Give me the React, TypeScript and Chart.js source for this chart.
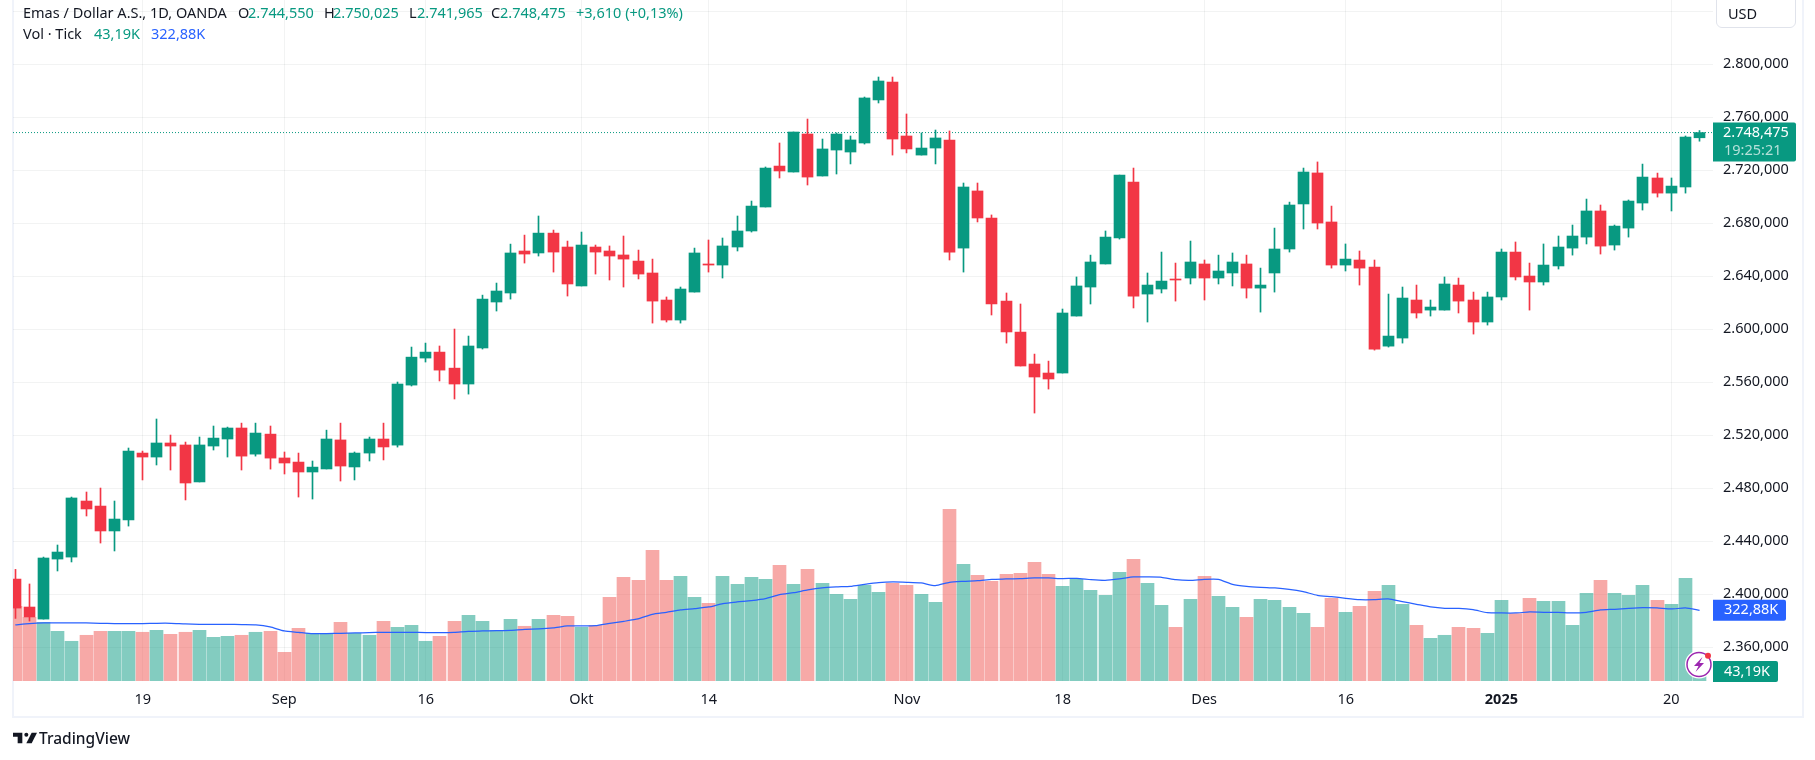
import { type FC, useEffect, useRef } from "react";
import Chart from "chart.js/auto";

const FONT = "'Noto Sans', sans-serif";
const FONT_SIZE = 14.5;
const UP = "#089981";
const DOWN = "#F23645";
const UP_VOL = "rgba(8, 153, 129, 0.5)";
const DOWN_VOL = "rgba(239, 83, 80, 0.5)";
const MA_BLUE = "#2962FF";
const GRID = "rgba(42, 46, 57, 0.06)";

const opens = [
  2411.5, 2390.4, 2381.3, 2426.6, 2428.1, 2470.4, 2466.6, 2447.8, 2456.1, 2506.6,
  2503.6, 2514.2, 2512.7, 2484.8, 2511.9, 2517.2, 2525.5, 2505.8, 2520.9, 2502.9,
  2499.8, 2492.3, 2494.6, 2516.5, 2496.1, 2506.6, 2517.2, 2512.6, 2557.9, 2578.3,
  2582.8, 2570.7, 2558.7, 2585.9, 2620.6, 2627.4, 2659.1, 2657.6, 2672.6, 2662.1,
  2632.7, 2662.1, 2659.1, 2656.1, 2651.5, 2642.5, 2622.1, 2607, 2628.1, 2649.3,
  2648.5, 2662.1, 2674.2, 2692.3, 2723.2, 2718.7, 2747.4, 2715.7, 2735.3, 2733.8,
  2740.6, 2773.1, 2786.6, 2745.9, 2731.5, 2736.8, 2742.9, 2661.3, 2704.4, 2684,
  2621.3, 2597.9, 2573.8, 2567, 2567, 2610, 2631.9, 2649.3, 2668.9, 2711.2,
  2626.6, 2630.4, 2637.9, 2638.7, 2649.3, 2638.7, 2642.5, 2649.3, 2631.1, 2642.5,
  2660.6, 2694.6, 2718, 2681, 2648.5, 2652.3, 2647, 2587.3, 2593.4, 2622.1,
  2614.5, 2614.5, 2633.4, 2622.1, 2605.5, 2624.4, 2658.3, 2640.2, 2635.7, 2647.8,
  2661.3, 2669.6, 2689.3, 2663.6, 2676.4, 2695.3, 2714.2, 2702.8, 2707.4, 2744.55,
];
const highs = [
  2418.8, 2407.8, 2428.1, 2437.2, 2473.4, 2477.2, 2480.2, 2470.4, 2510.4, 2508.1,
  2532.3, 2520.2, 2514.9, 2518.7, 2527, 2526.2, 2529.2, 2529.2, 2527, 2507.4,
  2506.6, 2500.6, 2523.9, 2529.2, 2507.4, 2518.7, 2529.2, 2560.2, 2586.6, 2589.6,
  2587.4, 2600.2, 2594.9, 2625.8, 2634.9, 2664.3, 2671.1, 2685.5, 2674.9, 2666.6,
  2673.4, 2663.6, 2662.9, 2670.4, 2659.8, 2653, 2624.4, 2631.9, 2661.3, 2667.4,
  2668.9, 2685.5, 2696.8, 2722.5, 2740.6, 2748.9, 2758.7, 2743.6, 2748.2, 2745.9,
  2775.3, 2790.4, 2790.4, 2762.5, 2748.2, 2750.4, 2749.7, 2710.4, 2710.4, 2686.3,
  2627.4, 2619.1, 2581.3, 2576, 2615.3, 2639.5, 2656, 2674.2, 2716.4, 2721.7,
  2642.5, 2658.3, 2650, 2666.6, 2652.3, 2656, 2657.6, 2656, 2646.2, 2676.4,
  2696, 2721.7, 2726.3, 2693, 2664.4, 2659.1, 2652.3, 2626.6, 2631.9, 2633.4,
  2622.1, 2639.5, 2638.7, 2628.1, 2628.1, 2660.6, 2665.9, 2650, 2664.4, 2670.4,
  2678.7, 2698.3, 2693.8, 2678.7, 2697.6, 2724.7, 2717.9, 2714.2, 2745.9, 2750.025,
];
const lows = [
  2381.8, 2379.8, 2381.3, 2417.6, 2424.4, 2459.1, 2438.7, 2432.7, 2451.5, 2486.3,
  2497.6, 2493.8, 2471.2, 2484.8, 2508.9, 2503.6, 2493.8, 2504.3, 2494.5, 2490.8,
  2473.4, 2471.9, 2494.6, 2485.5, 2486.3, 2500.6, 2501.4, 2511.1, 2557.2, 2575.3,
  2561, 2547.4, 2551.1, 2585.1, 2613.8, 2622.8, 2650, 2655.3, 2643.2, 2625.1,
  2632.7, 2641.7, 2637.2, 2631.9, 2638, 2604.7, 2605.5, 2604.7, 2628.1, 2643.2,
  2638.7, 2659.1, 2673.4, 2692.3, 2714.2, 2718.7, 2708.9, 2715.7, 2717.2, 2724.8,
  2739.8, 2770.8, 2731.5, 2733.1, 2731.5, 2724.8, 2652.3, 2643.2, 2681, 2610.8,
  2589.6, 2572.3, 2536.8, 2554.9, 2567, 2610, 2619.1, 2649.3, 2668.1, 2616.1,
  2605.5, 2627.4, 2621.3, 2634.2, 2622.1, 2634.2, 2632.7, 2623.6, 2613, 2628.1,
  2658.3, 2675.7, 2675.7, 2646.2, 2644, 2633.4, 2584.3, 2586.6, 2589.6, 2608.5,
  2610, 2614.5, 2612.3, 2596.4, 2603.2, 2622.1, 2637.2, 2614.5, 2633.4, 2645.5,
  2656, 2664.4, 2656.8, 2659.8, 2669.6, 2690, 2699.8, 2689.3, 2702.8, 2741.965,
];
const closes = [
  2389.6, 2382.9, 2427.4, 2431.9, 2472.7, 2464.4, 2447.8, 2456.8, 2508.1, 2503.6,
  2514.2, 2511.9, 2484, 2512.7, 2517.9, 2525.5, 2504.3, 2521.7, 2502.8, 2499.1,
  2492.3, 2496, 2517.2, 2496.8, 2506.6, 2517.2, 2511.2, 2558.7, 2579, 2582.8,
  2569.2, 2558.7, 2587.4, 2622.8, 2628.9, 2657.6, 2656.8, 2672.6, 2658.3, 2634.2,
  2663.6, 2658.3, 2655.3, 2653, 2641.7, 2621.3, 2607, 2630.4, 2657.6, 2648.5,
  2662.9, 2674.2, 2693, 2721.7, 2719.5, 2748.9, 2714.9, 2736.1, 2747.4, 2742.9,
  2774.6, 2787.4, 2743.6, 2736.1, 2736.8, 2744.4, 2658.3, 2707.4, 2684, 2619.1,
  2598, 2572.3, 2564, 2562.5, 2612.3, 2632.7, 2650.8, 2669.6, 2716.4, 2625.1,
  2633.4, 2636.4, 2637.2, 2650.8, 2638.7, 2644, 2650.8, 2631.1, 2633.4, 2660.6,
  2693.8, 2718.7, 2680.2, 2648.5, 2653, 2646.2, 2585.1, 2594.9, 2623.6, 2612.3,
  2616.8, 2634.2, 2621.3, 2605.5, 2624.4, 2658.3, 2639.5, 2635.7, 2648.5, 2662.1,
  2670.4, 2689.3, 2662.8, 2677.9, 2696.8, 2714.9, 2702.8, 2708.1, 2745.1, 2748.475,
];
// tick volume, in thousands
const volumes = [
  341.1, 290.9, 268, 226.9, 181.3, 208.7, 226.9, 226.9, 226.9, 222.4,
  231.5, 213.2, 222.4, 231.5, 199.5, 204.1, 208.7, 222.4, 226.9, 131,
  240.6, 217.8, 213.2, 268, 217.8, 208.7, 272.6, 245.2, 254.3, 181.3,
  204.1, 272.6, 300, 272.6, 231.5, 281.7, 249.8, 281.7, 300, 295.4,
  245.2, 254.3, 382.2, 473.5, 459.8, 596.8, 459.8, 478, 382.2, 354.8,
  478, 441.5, 473.5, 464.4, 528.3, 441.5, 510, 446.1, 395.9, 373,
  437, 405, 446.1, 437, 395.9, 359.3, 784, 532.9, 482.6, 455.2,
  487.2, 491.8, 542, 487.2, 432.4, 464.4, 414.1, 391.3, 496.3, 555.7,
  446.1, 345.6, 245.2, 373, 478, 386.7, 336.5, 290.9, 373, 368.5,
  336.5, 309.1, 245.2, 377.6, 313.7, 341.1, 409.6, 437, 350.2, 254.3,
  194.9, 208.7, 245.2, 240.6, 217.8, 368.5, 307.6, 377.6, 363.9, 363.9,
  254.3, 400.4, 459.8, 400.4, 391.3, 437, 368.5, 350.2, 468.9, 43.19,
];
const volumeMa = [
  255.9, 261.9, 265, 265, 265, 265, 263.5, 261.9, 261.9, 261.9,
  263.5, 263.5, 260.4, 258.9, 258.9, 258.9, 257.4, 255.9, 246.7, 228.5,
  222.4, 216.3, 216.3, 217.8, 219.3, 220.8, 222.4, 222.4, 222.4, 220.8,
  220.8, 222.4, 226.9, 228.5, 230, 231.5, 236.1, 237.6, 242.1, 251.3,
  251.3, 252.8, 263.5, 272.6, 283.2, 304.6, 313.7, 324.3, 330.4, 338,
  353.3, 360.9, 367, 376.1, 394.4, 403.5, 415.7, 424.8, 429.4, 432.4,
  441.5, 449.1, 452.2, 450.7, 447.6, 435.4, 450.7, 455.2, 458.3, 464.4,
  465.9, 467.4, 470.4, 470.4, 467.4, 468.9, 462.8, 459.8, 465.9, 475,
  475, 473.5, 462.8, 459.8, 464.4, 464.4, 441.5, 432.4, 427.8, 424.8,
  418.7, 408, 391.3, 385.2, 377.6, 371.5, 371.5, 374.6, 362.4, 350.2,
  338, 332, 332, 325.9, 312.2, 310.6, 310.6, 315.2, 313.7, 313.7,
  310.6, 313.7, 324.3, 327.4, 331.9, 335, 333.5, 328.9, 333.5, 322.88,
];

const priceTicks = [2840, 2800, 2760, 2720, 2680, 2640, 2600, 2560, 2520, 2480, 2440, 2400, 2360];
const dateTickBars = [9, 19, 29, 40, 49, 63, 74, 84, 94, 105, 117];
const dateTickLabels = ["19", "Sep", "16", "Okt", "14", "Nov", "18", "Des", "16", "2025", "20"];
const lastPriceLabel = "2.748,475";
const countdownLabel = "19:25:21";
const maLabel = "322,88K";
const volumeLabel = "43,19K";

// [text, left, colour] for the two legend rows
const legendTop = [
  ["Emas / Dollar A.S., 1D, OANDA", 23, "#131722"],
  ["O", 238, "#131722"],
  ["2.744,550", 248, UP],
  ["H", 324, "#131722"],
  ["2.750,025", 333, UP],
  ["L", 409, "#131722"],
  ["2.741,965", 417, UP],
  ["C", 491, "#131722"],
  ["2.748,475", 500, UP],
  ["+3,610 (+0,13%)", 576, UP],
];
const legendBottom = [
  ["Vol · Tick", 23, "#131722"],
  ["43,19K", 94, UP],
  ["322,88K", 151, MA_BLUE],
];

const isUp = (i: number) => closes[i] >= opens[i];
const barColors = opens.map((_, i) => (isUp(i) ? UP : DOWN));
const volumeColors = opens.map((_, i) => (isUp(i) ? UP_VOL : DOWN_VOL));

const formatPrice = (v: number) =>
  `${Math.floor(v / 1000)}.${String(v % 1000).padStart(3, "0")},000`;

// snap bars to whole pixels, otherwise the 1px wicks go blurry
const snapBars = {
  id: "snapBars",
  beforeDatasetsDraw(chart: Chart) {
    chart.data.datasets.forEach((ds: any, i: number) => {
      if (ds.type === "line") return;
      chart.getDatasetMeta(i).data.forEach((el: any) => {
        el.x = Math.floor(el.x) + 0.5;
      });
    });
  },
};

const drawTag = (ctx: CanvasRenderingContext2D, y: number, h: number, w: number, color: string) => {
  ctx.fillStyle = color;
  ctx.beginPath();
  ctx.roundRect(1713, y, w, h, [0, 2, 2, 0]);
  ctx.fill();
};

// the value tags sitting on the price axis
const priceTags = {
  id: "priceTags",
  afterDraw(chart: Chart) {
    const { ctx, scales } = chart;
    const priceY = scales.y.getPixelForValue(closes[closes.length - 1]);
    const maY = scales.vol.getPixelForValue(volumeMa[volumeMa.length - 1]);
    const volY = scales.vol.getPixelForValue(volumes[volumes.length - 1]);
    ctx.save();
    ctx.font = `${FONT_SIZE}px ${FONT}`;
    ctx.textBaseline = "middle";
    drawTag(ctx, priceY - 10, 39, 83, UP);
    ctx.fillStyle = "#ffffff";
    ctx.fillText(lastPriceLabel, 1723, priceY);
    ctx.fillStyle = "rgba(255, 255, 255, 0.7)";
    ctx.fillText(countdownLabel, 1724, priceY + 18);
    drawTag(ctx, maY - 10.5, 21, 73, MA_BLUE);
    ctx.fillStyle = "#ffffff";
    ctx.fillText(maLabel, 1724, maY);
    drawTag(ctx, volY - 10.5, 21, 65, UP);
    ctx.fillStyle = "#ffffff";
    ctx.fillText(volumeLabel, 1724, volY);
    ctx.restore();
  },
};

const GoldChart: FC = () => {
  const canvasRef = useRef<HTMLCanvasElement>(null);
  const chartInstance = useRef<Chart | null>(null);

  useEffect(() => {
    if (!canvasRef.current) return;
    const ctx = canvasRef.current.getContext("2d");
    if (!ctx) return;

    const xMin = -0.1625;
    const xMax = 119.95;
    const lastClose = closes[closes.length - 1];

    chartInstance.current = new Chart(ctx, {
      type: "bar",
      data: {
        datasets: [
          {
            type: "bar",
            label: "Volume",
            yAxisID: "vol",
            order: 5,
            grouped: false,
            barThickness: 13,
            data: volumes.map((v, i) => ({ x: i, y: v })),
            backgroundColor: volumeColors,
          },
          {
            type: "line",
            label: "Volume MA",
            yAxisID: "vol",
            order: 4,
            data: volumeMa.map((v, i) => ({ x: i, y: v })),
            borderColor: MA_BLUE,
            borderWidth: 1.25,
            pointRadius: 0,
            tension: 0.2,
          },
          {
            type: "line",
            label: "Last price",
            yAxisID: "y",
            order: 3,
            data: [
              { x: xMin, y: lastClose },
              { x: xMax, y: lastClose },
            ],
            borderColor: UP,
            borderWidth: 1,
            borderDash: [1, 2],
            pointRadius: 0,
          },
          {
            type: "bar",
            label: "Wick",
            yAxisID: "y",
            order: 2,
            grouped: false,
            barThickness: 1,
            data: opens.map((_, i) => ({ x: i, y: [lows[i], highs[i]] })),
            backgroundColor: barColors,
          },
          {
            type: "bar",
            label: "Body",
            yAxisID: "y",
            order: 1,
            grouped: false,
            barThickness: 11,
            minBarLength: 1,
            data: opens.map((_, i) => ({ x: i, y: [opens[i], closes[i]] })),
            backgroundColor: barColors,
          },
        ] as any,
      },
      options: {
        responsive: false,
        animation: false,
        devicePixelRatio: 1,
        layout: { autoPadding: false, padding: { left: 13, top: 0, right: 0, bottom: 0 } },
        plugins: { legend: { display: false }, tooltip: { enabled: false } },
        scales: {
          x: {
            type: "linear",
            offset: false,
            min: xMin,
            max: xMax,
            afterFit: (s: any) => {
              s.height = 79;
              s.paddingLeft = 0;
              s.paddingRight = 0;
            },
            afterBuildTicks: (s: any) => {
              s.ticks = dateTickBars.map((value) => ({ value }));
            },
            grid: { color: GRID, drawTicks: false, offset: false },
            border: { display: false },
            ticks: {
              autoSkip: false,
              maxRotation: 0,
              padding: 10,
              color: "#131722",
              font: (c: any) => ({
                family: FONT,
                size: FONT_SIZE,
                weight: dateTickLabels[dateTickBars.indexOf(c.tick?.value)] === "2025" ? "bold" : "normal",
              }),
              callback: (v: any) => dateTickLabels[dateTickBars.indexOf(v)],
            },
          },
          y: {
            position: "right",
            min: 2334.57,
            max: 2848.53,
            afterFit: (s: any) => {
              s.width = 102;
              // tick labels must not push the plot down from the top edge
              s.paddingTop = 0;
              s.paddingBottom = 0;
            },
            afterBuildTicks: (s: any) => {
              s.ticks = priceTicks.map((value) => ({ value }));
            },
            grid: { color: GRID, drawTicks: false },
            border: { display: false },
            ticks: {
              autoSkip: false,
              padding: 10,
              color: "#131722",
              font: { family: FONT, size: FONT_SIZE },
              callback: (v: any) => (v === 2840 ? "" : formatPrice(v)),
            },
          },
          vol: {
            display: false,
            min: 0,
            max: 3109.6,
          },
        },
      },
      plugins: [snapBars, priceTags],
    } as any);

    return () => {
      if (chartInstance.current) {
        chartInstance.current.destroy();
      }
    };
  }, []);

  return <canvas ref={canvasRef} width={1815} height={760} style={{ display: "block" }}></canvas>;
};

const legendStyle = (left: number, top: number, color: string): React.CSSProperties => ({
  position: "absolute",
  left,
  top,
  color,
  font: `${FONT_SIZE}px ${FONT}`,
  lineHeight: "20px",
  whiteSpace: "nowrap",
});

const App: FC = () => (
  <div style={{ position: "absolute", left: 0, top: 0, width: 1815, height: 760, overflow: "hidden", background: "#fff" }}>
    {/* chart frame */}
    <div
      style={{
        position: "absolute",
        left: 12,
        top: -2,
        width: 1788,
        height: 716,
        border: "2px solid #f0f3fa",
      }}
    />
    <div style={{ position: "absolute", left: 0, top: 0 }}>
      <GoldChart />
    </div>
    {legendTop.map(([text, left, color]) => (
      <div key={`${text}${left}`} style={legendStyle(left as number, 2, color as string)}>
        {text}
      </div>
    ))}
    {legendBottom.map(([text, left, color]) => (
      <div key={`${text}${left}`} style={legendStyle(left as number, 23, color as string)}>
        {text}
      </div>
    ))}
    {/* currency button */}
    <div
      style={{
        position: "absolute",
        left: 1716,
        top: -8,
        width: 80,
        height: 36,
        border: "1px solid #e0e3eb",
        borderRadius: 6,
        boxSizing: "border-box",
      }}
    />
    <div style={legendStyle(1728, 3, "#131722")}>USD</div>
    {/* lightning badge */}
    <svg style={{ position: "absolute", left: 1683, top: 648 }} width="32" height="32" viewBox="0 0 32 32">
      <circle cx="16" cy="16.5" r="13" fill="#fff" stroke="#fff" strokeWidth="2" />
      <circle cx="16" cy="16.5" r="12" fill="#fff" stroke="#9c27b0" strokeWidth="1.5" />
      <path d="M19.5 9 L11 18 H15.5 L12.5 24 L21 15 H16.5 Z" fill="#9c27b0" />
      <circle cx="25" cy="7.7" r="3" fill="#f23645" />
    </svg>
    {/* TradingView mark */}
    <svg style={{ position: "absolute", left: 13, top: 731 }} width="24" height="14" viewBox="0 0 36 20">
      <path d="M14 2H0v6h7v10h7V2Z" fill="#131722" />
      <circle cx="20" cy="5" r="3" fill="#131722" />
      <path d="M28 2h8l-8 16h-8l8-16Z" fill="#131722" />
    </svg>
    <div style={{ ...legendStyle(39, 728, "#131722"), fontSize: 15.5, fontWeight: 500 }}>TradingView</div>
  </div>
);

export default App;
